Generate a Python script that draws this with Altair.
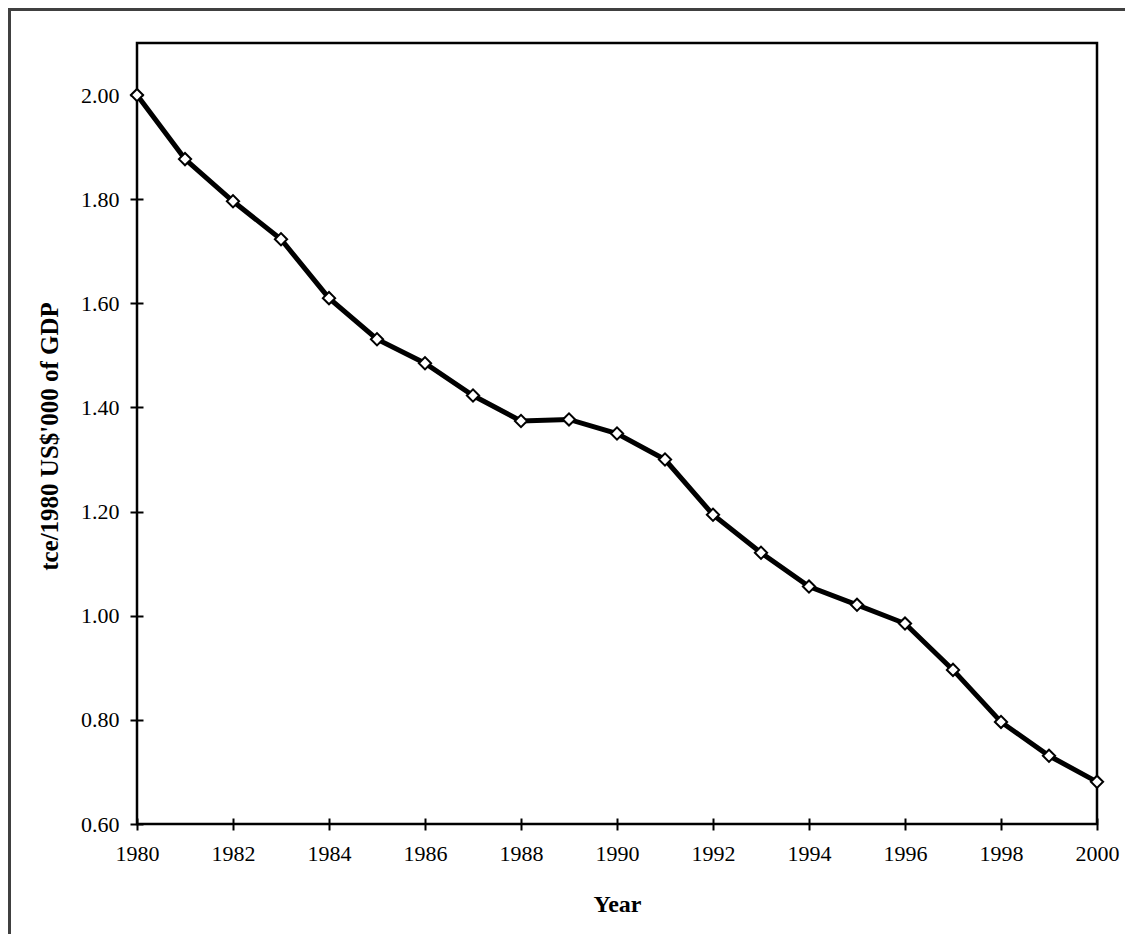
import altair as alt
import pandas as pd

years = list(range(1980, 2001))
intensity = [2.000, 1.877, 1.796, 1.723, 1.610, 1.531, 1.485, 1.423, 1.374, 1.377,
             1.350, 1.300, 1.194, 1.121, 1.056, 1.021, 0.985, 0.896, 0.796, 0.731, 0.681]
x_ticks = list(range(1980, 2001, 2))
y_ticks = [0.6, 0.8, 1.0, 1.2, 1.4, 1.6, 1.8, 2.0]

df = pd.DataFrame({"year": years, "value": intensity})

FONT = "Liberation Serif"
W, H = 960, 781
PAD = {"left": 129, "top": 35, "right": 28, "bottom": 110}

x_enc = alt.X("year:Q",
              scale=alt.Scale(domain=[1980, 2000], nice=False, zero=False),
              axis=alt.Axis(values=x_ticks, format="d", title="Year",
                            domain=False, grid=False, offset=-6, tickSize=12,
                            tickWidth=2, tickColor="black", labelFlush=False,
                            labelFont=FONT, labelFontSize=22, labelColor="black",
                            labelPadding=13,
                            titleFont=FONT, titleFontSize=24, titleFontWeight="bold",
                            titleColor="black", titleX=480, titleY=93,
                            titleBaseline="alphabetic", titleAlign="center"))
y_enc = alt.Y("value:Q",
              scale=alt.Scale(domain=[0.6, 2.1], nice=False, zero=False),
              axis=alt.Axis(values=y_ticks, format=".2f",
                            title="tce/1980 US$'000 of GDP",
                            domain=False, grid=False, offset=-6, tickSize=13,
                            tickWidth=2, tickColor="black", labelFlush=False,
                            labelFont=FONT, labelFontSize=22, labelColor="black",
                            labelPadding=11,
                            titleFont=FONT, titleFontSize=25, titleFontWeight="bold",
                            titleColor="black", titleX=-86, titleY=393,
                            titleAngle=270, titleBaseline="alphabetic",
                            titleAlign="center"))

line = alt.Chart(df).mark_line(color="black", strokeWidth=5).encode(x=x_enc, y=y_enc)
pts = alt.Chart(df).mark_point(shape="diamond", size=150, filled=True, fill="white",
                               stroke="black", strokeWidth=2, opacity=1).encode(
    x="year:Q", y="value:Q")

frame_left = alt.Chart(df).mark_rule(color="#404040", strokeWidth=2.5, clip=False).encode(
    x=alt.value(-128), y=alt.value(-34), y2=alt.value(H + PAD["bottom"]))
frame_top = alt.Chart(df).mark_rule(color="#404040", strokeWidth=2.5, clip=False).encode(
    x=alt.value(-129), x2=alt.value(W + PAD["right"]), y=alt.value(-34))

chart = alt.layer(line, pts, frame_left, frame_top).properties(
    width=W, height=H,
    autosize=alt.AutoSizeParams(type="none"),
    padding=PAD,
    background="white",
).configure_view(stroke="black", strokeWidth=2.5)

chart.save("out.html", embed_options={"renderer": "svg", "actions": False})
